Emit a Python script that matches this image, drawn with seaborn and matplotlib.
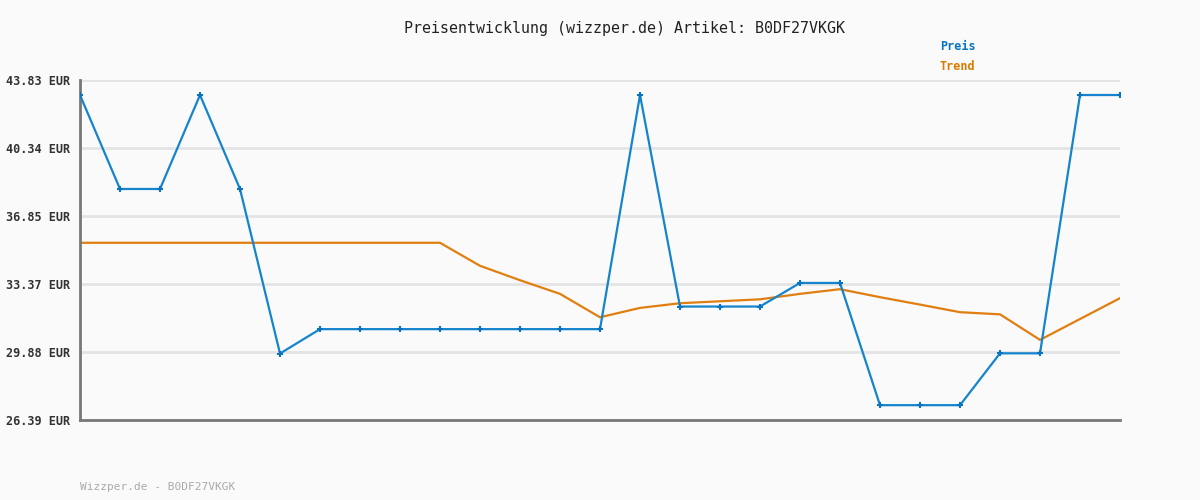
import matplotlib
matplotlib.use("Agg")
import matplotlib.pyplot as plt
import seaborn as sns
import pandas as pd

title = "Preisentwicklung (wizzper.de) Artikel: B0DF27VKGK"
footer = "Wizzper.de - B0DF27VKGK"
ytick_values = [26.39, 29.88, 33.37, 36.85, 40.34, 43.83]
ytick_labels = ["26.39 EUR", "29.88 EUR", "33.37 EUR", "36.85 EUR", "40.34 EUR", "43.83 EUR"]

preis = [43.06, 38.24, 38.24, 43.06, 38.24, 29.80, 31.05, 31.05, 31.05, 31.05,
         31.05, 31.05, 31.05, 31.05, 43.06, 32.21, 32.21, 32.21, 33.42, 33.42,
         27.15, 27.15, 27.15, 29.81, 29.81, 43.06, 43.06]
trend = [35.48, 35.48, 35.48, 35.48, 35.48, 35.48, 35.48, 35.48, 35.48, 35.48,
         34.30, 33.56, 32.86, 31.66, 32.14, 32.38, 32.48, 32.58, 32.86, 33.10,
         32.69, 32.31, 31.92, 31.81, 30.50, 31.57, 32.64]

idx = list(range(len(preis)))
df_p = pd.DataFrame({"i": idx, "v": preis})
df_t = pd.DataFrame({"i": idx, "v": trend})

sns.set_style("white")
plt.rcParams['font.family'] = ['DejaVu Sans Mono', 'DejaVu Sans']

blue = "#1584cc"
orange = "#e07f10"

fig = plt.figure(figsize=(12, 5), dpi=100, facecolor="#fafafa")
ax = fig.add_axes([80/1200, 80/500, 1040/1200, 340/500])
ax.set_facecolor("#fafafa")

for y in ytick_values:
    ax.axhline(y, color="#e4e4e4", lw=2, zorder=0)

sns.lineplot(data=df_t, x="i", y="v", ax=ax, color=orange, lw=1.6, zorder=2)
sns.lineplot(data=df_p, x="i", y="v", ax=ax, color=blue, lw=1.6, marker="+",
             markersize=5, markeredgewidth=1.5, markeredgecolor="#0a74c0", zorder=3)

ax.set_xlim(0, len(preis) - 1)
ax.set_ylim(ytick_values[0], ytick_values[-1])
ax.set_xticks([])
ax.set_yticks(ytick_values)
ax.set_yticklabels(ytick_labels, fontsize=8.5, fontweight="bold", color="#333333")
ax.tick_params(axis="y", length=0, pad=7)
ax.set_xlabel("")
ax.set_ylabel("")
for s in ["top", "right"]:
    ax.spines[s].set_visible(False)
for s in ["left", "bottom"]:
    ax.spines[s].set_color("#777777")
    ax.spines[s].set_linewidth(2)

fig.text(624/1200, 1 - 28/500, title, ha="center", va="center", fontsize=10.8, color="#222222")
fig.text(940/1200, 1 - 47/500, "Preis", ha="left", va="center", fontsize=8.5, fontweight="bold", color="#0a74c0")
fig.text(940/1200, 1 - 67/500, "Trend", ha="left", va="center", fontsize=8.5, fontweight="bold", color="#d97a00")
fig.text(80/1200, 1 - 487/500, footer, ha="left", va="center", fontsize=8, color="#aaaaaa")

fig.savefig("out.png", dpi=100, facecolor=fig.get_facecolor())
